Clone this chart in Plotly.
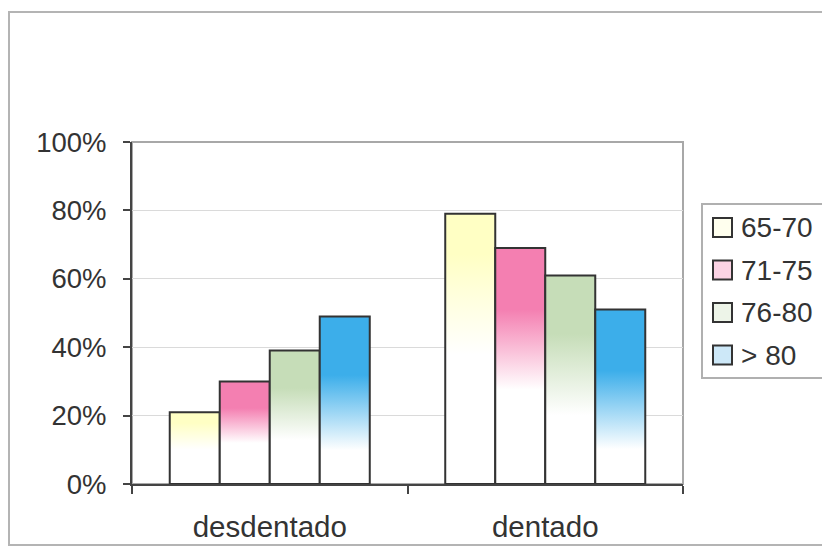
import plotly.graph_objects as go

# ---- data -------------------------------------------------------------
categories = ["desdentado", "dentado"]
age_groups = ["65-70", "71-75", "76-80", "> 80"]
share_65_70 = [0.21, 0.79]
share_71_75 = [0.30, 0.69]
share_76_80 = [0.39, 0.61]
share_over_80 = [0.49, 0.51]
y_tick_vals = [0, 0.2, 0.4, 0.6, 0.8, 1.0]

series = [share_65_70, share_71_75, share_76_80, share_over_80]

# ---- style ------------------------------------------------------------
colors = ["#FFFFC4", "#F47FB1", "#C6DDB8", "#3CAEEA"]
# (white-until, full-colour-from) as fractions of each bar's height
fade_stops = [(0.48, 0.85), (0.40, 0.74), (0.33, 0.72), (0.20, 0.65)]
legend_tints = ["#FFFFEE", "#FBD3E4", "#EDF4E8", "#CDE8F8"]
FONT = "Liberation Sans, Arial, sans-serif"
TEXT = "#333333"
OUTLINE = "#333333"

W, H = 822, 548
ML, MR, MT, MB = 132, 139, 142, 64
PW, PH = W - ML - MR, H - MT - MB

group_frac = 0.726            # share of each category slot taken by the bar group
bar_w = group_frac / len(series)

fig = go.Figure()

for s, (values, name) in enumerate(zip(series, age_groups)):
    c = colors[s]
    w0, w1 = fade_stops[s]
    scale = [[0, "white"], [w0, "white"], [w1, c], [1, c]]
    for ci, v in enumerate(values):
        left = ci - group_frac / 2 + s * bar_w
        right = left + bar_w
        fig.add_trace(go.Scatter(
            x=[left, left, right, right, left],
            y=[0, v, v, 0, 0],
            mode="lines",
            fill="toself",
            fillgradient=dict(type="vertical", colorscale=scale),
            line=dict(color=OUTLINE, width=2),
            name=name,
            legendgroup=name,
            showlegend=False,
            hovertemplate=f"{categories[ci]}<br>{name}: %{{y:.0%}}<extra></extra>",
        ))


def px_x(p):
    return (p - ML) / PW


def px_y(p):
    return (H - MB - p) / PH


shapes = []
# outer chart frame
shapes.append(dict(type="rect", xref="paper", yref="paper",
                   x0=px_x(9), x1=px_x(840), y0=px_y(545), y1=px_y(12),
                   line=dict(color="#B4B4B4", width=2), fillcolor="rgba(0,0,0,0)",
                   layer="below"))
# plot area frame
shapes.append(dict(type="rect", xref="paper", yref="paper",
                   x0=0, x1=1, y0=0, y1=1,
                   line=dict(color="#A8A8A8", width=2), fillcolor="rgba(0,0,0,0)",
                   layer="below"))
# legend box
shapes.append(dict(type="rect", xref="paper", yref="paper",
                   x0=px_x(702), x1=px_x(840), y0=px_y(378), y1=px_y(204),
                   line=dict(color="#B0B0B0", width=2), fillcolor="white",
                   layer="below"))

annotations = []
for i, name in enumerate(age_groups):
    cy = 227.5 + 42.5 * i
    shapes.append(dict(type="rect", xref="paper", yref="paper",
                       x0=px_x(713), x1=px_x(732), y0=px_y(cy + 9.5), y1=px_y(cy - 9.5),
                       line=dict(color=OUTLINE, width=2), fillcolor=legend_tints[i]))
    annotations.append(dict(xref="paper", yref="paper", x=px_x(739), y=px_y(cy),
                            xanchor="left", yanchor="middle", showarrow=False,
                            text=name, font=dict(family=FONT, size=28, color=TEXT)))

fig.update_layout(
    width=W, height=H,
    margin=dict(l=ML, r=MR, t=MT, b=MB, pad=0, autoexpand=False),
    paper_bgcolor="white", plot_bgcolor="white",
    showlegend=False,
    shapes=shapes,
    annotations=annotations,
    font=dict(family=FONT, color=TEXT),
)

fig.update_xaxes(
    automargin=False,
    range=[-0.5, len(categories) - 0.5],
    tickmode="array", tickvals=list(range(len(categories))), ticktext=categories,
    ticks="", tickfont=dict(family=FONT, size=29.5, color=TEXT),
    ticklabelstandoff=16,
    showline=True, linecolor="#444444", linewidth=2,
    showgrid=False, zeroline=False,
    minor=dict(tickmode="array",
               tickvals=[k - 0.5 for k in range(len(categories) + 1)],
               ticks="outside", ticklen=8, tickcolor="#444444", tickwidth=1.5),
)

fig.update_yaxes(
    automargin=False,
    range=[0, 1], tickmode="array", tickvals=y_tick_vals, tickformat=".0%",
    ticks="outside", ticklen=7, tickcolor="#444444", tickwidth=1.5,
    tickfont=dict(family=FONT, size=27.5, color=TEXT),
    ticklabelstandoff=11,
    showline=True, linecolor="#444444", linewidth=2,
    showgrid=True, gridcolor="#DADADA", gridwidth=1,
    zeroline=False,
)

fig.write_html("out.html")
